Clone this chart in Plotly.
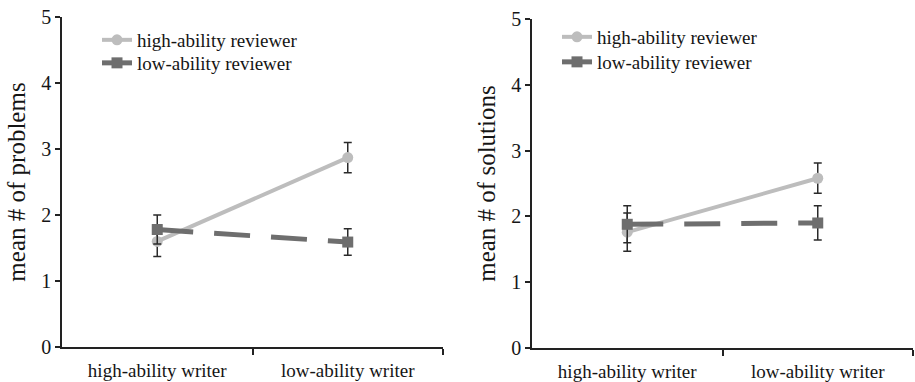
import plotly.graph_objects as go

# ---- data ----
writers = ["high-ability writer", "low-ability writer"]
series_names = ["high-ability reviewer", "low-ability reviewer"]

problems_high = [1.60, 2.87]
problems_high_err = [0.23, 0.23]
problems_low = [1.78, 1.59]
problems_low_err = [0.22, 0.20]

solutions_high = [1.76, 2.58]
solutions_high_err = [0.29, 0.23]
solutions_low = [1.88, 1.90]
solutions_low_err = [0.28, 0.26]

y_ticks = [0, 1, 2, 3, 4, 5]

# ---- style ----
LIGHT = "#BDBDBD"
DARK = "#6E6E6E"
ERR = "#2A2A2A"
TXT = "#151515"
FONT = "Liberation Serif"
W, H = 915, 382

xpos = list(range(len(writers)))

fig = go.Figure()


def add_panel(xa, ya, leg_hi, leg_lo, hi, hi_err, lo, lo_err):
    fig.add_trace(go.Scatter(
        x=xpos, y=hi, name=series_names[0], xaxis=xa, yaxis=ya, legend=leg_hi,
        mode="lines+markers",
        line=dict(color=LIGHT, width=4),
        marker=dict(symbol="circle", size=11, color=LIGHT),
        error_y=dict(type="data", array=hi_err, color=ERR, thickness=1.5, width=4),
    ))
    fig.add_trace(go.Scatter(
        x=xpos, y=lo, name=series_names[1], xaxis=xa, yaxis=ya, legend=leg_lo,
        mode="lines+markers",
        line=dict(color=DARK, width=5, dash="36px,21px"),
        marker=dict(symbol="square", size=11, color=DARK),
        error_y=dict(type="data", array=lo_err, color=ERR, thickness=1.5, width=4),
    ))


add_panel("x", "y", "legend", "legend2",
          problems_high, problems_high_err, problems_low, problems_low_err)
add_panel("x2", "y2", "legend3", "legend4",
          solutions_high, solutions_high_err, solutions_low, solutions_low_err)


def xaxis_cfg(d0, d1, anchor):
    return dict(
        domain=[d0 / W, d1 / W], anchor=anchor, range=[-0.5, 1.5],
        tickvals=xpos, ticktext=writers, ticks="",
        showline=True, linecolor="#222", linewidth=1.5, showgrid=False, zeroline=False,
        tickfont=dict(family=FONT, size=19, color=TXT),
        ticklabelstandoff=5,
        minor=dict(tickvals=[0.5, 1.5], ticks="outside", ticklen=6, tickcolor="#222", tickwidth=1.5),
        automargin=False, fixedrange=True,
    )


def yaxis_cfg(top, bottom, anchor, title):
    return dict(
        domain=[1 - bottom / H, 1 - top / H], anchor=anchor, range=[0, 5],
        tickvals=y_ticks, ticks="outside", ticklen=5, tickwidth=1.5, tickcolor="#222",
        showline=True, linecolor="#222", linewidth=1.5, showgrid=False, zeroline=False,
        tickfont=dict(family=FONT, size=20, color=TXT),
        title=dict(text=title, font=dict(family=FONT, size=25, color=TXT), standoff=9),
        automargin=False, fixedrange=True,
    )


def legend_cfg(x_px, top_px):
    return dict(x=x_px / W, y=1 - top_px / H, xanchor="left", yanchor="top",
                bgcolor="rgba(0,0,0,0)", borderwidth=0, itemwidth=30,
                font=dict(family=FONT, size=19, color=TXT))


fig.update_layout(
    width=W, height=H,
    margin=dict(l=0, r=0, t=0, b=0),
    paper_bgcolor="white", plot_bgcolor="white",
    xaxis=xaxis_cfg(62, 443, "y"),
    yaxis=yaxis_cfg(17, 347, "x", "mean # of problems"),
    xaxis2=xaxis_cfg(532, 913, "y2"),
    yaxis2=yaxis_cfg(19, 348, "x2", "mean # of solutions"),
    legend=legend_cfg(97, 21),
    legend2=legend_cfg(97, 44),
    legend3=legend_cfg(557, 18),
    legend4=legend_cfg(557, 43),
    showlegend=True,
)

fig.write_html("out.html", config={"displayModeBar": False},
               post_script="document.body.style.margin='0px';")
